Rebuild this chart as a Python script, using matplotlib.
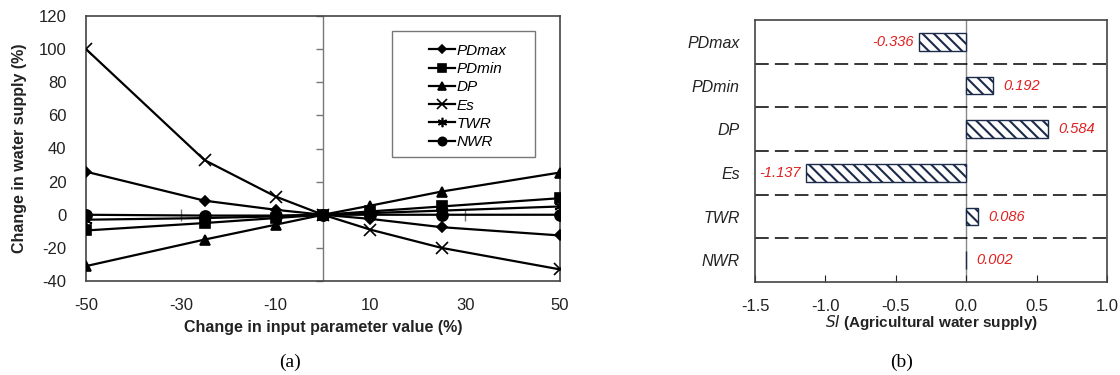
import matplotlib
matplotlib.use("Agg")
import matplotlib.pyplot as plt
from matplotlib.markers import TICKLEFT
from matplotlib.patches import Rectangle

plt.rcParams['font.family'] = ['Liberation Sans', 'DejaVu Sans']
plt.rcParams['axes.unicode_minus'] = False
plt.rcParams['hatch.linewidth'] = 1.5

# panel (a): change in water supply vs change in input parameter
X_PCT = [-50, -25, -10, 0, 10, 25, 50]
SERIES = {
    "PDmax": [26, 8.5, 3, 0, -2.5, -7.5, -12.5],
    "PDmin": [-9.5, -5, -2, 0, 2, 5, 10],
    "DP":    [-31, -15, -6, 0, 5.5, 14, 25.5],
    "Es":    [100, 33, 11, 0, -9, -20, -33],
    "TWR":   [-3, -2, -1, 0, 1, 2.5, 5],
    "NWR":   [0, -0.5, -0.5, 0, 0, 0, 0],
}
X_TICKS = [-50, -30, -10, 10, 30, 50]
Y_TICKS = [-40, -20, 0, 20, 40, 60, 80, 100, 120]

# panel (b): sensitivity index
PARAMS = ["PDmax", "PDmin", "DP", "Es", "TWR", "NWR"]
SI = [-0.336, 0.192, 0.584, -1.137, 0.086, 0.002]
SI_TICKS = [-1.5, -1.0, -0.5, 0.0, 0.5, 1.0]

MARKERS = {"PDmax": ("D", 5.5), "PDmin": ("s", 7.5), "DP": ("^", 7),
           "Es": ("x", 9), "TWR": ((6, 2, 0), 9), "NWR": ("o", 8)}

fig = plt.figure(figsize=(11.2, 3.75), dpi=100)

# ---- (a)
ax = fig.add_axes([86/1120, 1-281/375, 474/1120, 265/375])
for name, vals in SERIES.items():
    m, ms = MARKERS[name]
    ax.plot(X_PCT, vals, color="black", lw=1.6, marker=m, markersize=ms,
            markeredgewidth=1.2, label=name, zorder=3)
ax.set_xlim(-50, 50)
ax.set_ylim(-40, 120)
ax.set_xticks(X_TICKS)
ax.set_yticks(Y_TICKS)
ax.tick_params(length=0, labelsize=12, colors="#222222")
ax.tick_params(axis="x", pad=12)
ax.tick_params(axis="y", pad=14)
for s in ax.spines.values():
    s.set_color("#444444")
    s.set_linewidth(1.2)
ax.set_xlabel("Change in input parameter value (%)", fontsize=11.5,
              fontweight="bold", color="#222222")
ax.set_ylabel("Change in water supply (%)", fontsize=11.5,
              fontweight="bold", color="#222222")
ax.xaxis.set_label_coords(0.5, -(320 - 281) / 265)
ax.yaxis.set_label_coords(-(86 - 27) / 474, 0.5)

# excel-style axes crossing at zero, with their small tick marks
ax.axvline(0, color="#777777", lw=1, zorder=1)
ax.plot([0] * len(Y_TICKS), Y_TICKS, ls="none", marker=TICKLEFT, ms=5,
        mew=1, color="#777777", zorder=1, clip_on=False)
ax.plot(X_TICKS, [0] * len(X_TICKS), ls="none", marker="|", ms=8,
        mew=1, color="#777777", zorder=1)

ax.add_patch(Rectangle(((392 - 86) / 474, (281 - 157) / 265), 143 / 474, 126 / 265,
                       transform=ax.transAxes, facecolor="white",
                       edgecolor="#777777", lw=1.0, zorder=4))
leg = ax.legend(loc="upper left", bbox_to_anchor=((418 - 86) / 474, (281 - 33) / 265),
                frameon=False, prop={"style": "italic", "size": 11},
                handlelength=1.7, handletextpad=0.1, labelspacing=0.28,
                borderpad=0.2, markerscale=0.75)
leg.set_zorder(5)

fig.text(290/1120, 1-362/375, "(a)", ha="center", va="center",
         fontsize=14, family="Liberation Serif")

# ---- (b)
bx = fig.add_axes([755/1120, 1-282/375, 352/1120, 262/375])
ypos = list(range(len(PARAMS)))
bx.barh(ypos, SI, height=0.41, color="white", edgecolor="#1c2b4a",
        hatch="\\\\\\", linewidth=1.0, zorder=2)
bx.set_xlim(-1.5, 1.0)
bx.set_ylim(len(PARAMS) - 0.5, -0.5)
bx.set_xticks(SI_TICKS)
bx.set_xticklabels([f"{t:.1f}" for t in SI_TICKS])
bx.set_yticks(ypos)
bx.set_yticklabels(PARAMS, fontstyle="italic", fontsize=11.5)
bx.tick_params(axis="y", length=0, pad=11, colors="#222222")
bx.tick_params(axis="x", direction="in", length=5, labelsize=12, pad=12,
               colors="#222222")
for s in bx.spines.values():
    s.set_color("#444444")
    s.set_linewidth(1.2)
bx.axvline(0, color="#888888", lw=1, zorder=1)
for k in range(len(PARAMS) - 1):
    bx.axhline(k + 0.5, color="black", lw=1.1, ls=(0, (9, 4)))
for y, v in zip(ypos, SI):
    off = -4 if v < 0 else 7
    bx.annotate(f"{v:.3f}", (v, y), xytext=(off, 0), textcoords="offset points",
                ha="right" if v < 0 else "left", va="center", color="#e02020",
                fontstyle="italic", fontsize=10.5)
bx.set_xlabel("$\\mathbf{\\mathit{SI}}$ (Agricultural water supply)", fontsize=11,
              fontweight="bold", color="#222222")
bx.xaxis.set_label_coords(0.5, -(313 - 282) / 262)

fig.text(902/1120, 1-362/375, "(b)", ha="center", va="center",
         fontsize=14, family="Liberation Serif")

fig.savefig("out.png", dpi=100)
